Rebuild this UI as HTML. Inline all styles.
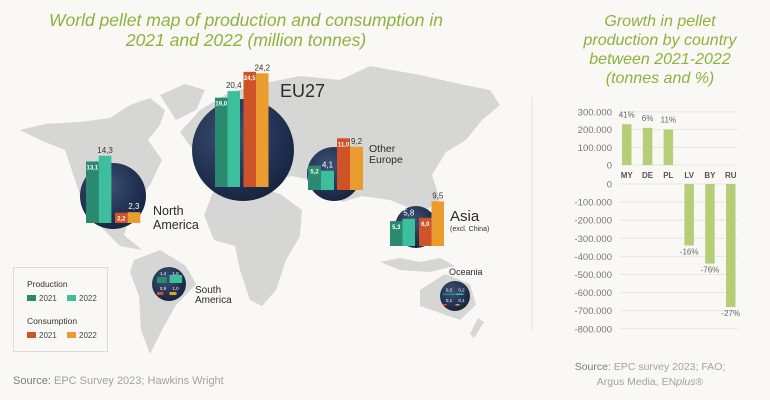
<!DOCTYPE html>
<html><head><meta charset="utf-8">
<style>
html,body{margin:0;padding:0;background:#f9f8f4;}
svg{display:block;font-family:"Liberation Sans",sans-serif;}
</style></head>
<body>
<svg id="root" width="770" height="400" viewBox="0 0 770 400" xmlns="http://www.w3.org/2000/svg">
<defs>
<radialGradient id="globe" cx="40%" cy="35%" r="70%">
<stop offset="0" stop-color="#3e5276"/><stop offset="0.7" stop-color="#1f2f4f"/><stop offset="1" stop-color="#16233d"/>
</radialGradient>
</defs>
<rect width="770" height="400" fill="#f9f8f4"/>

<g fill="#8fb23e" font-style="italic" font-size="17.5" text-anchor="middle">
<text x="246" y="26">World pellet map of production and consumption in</text>
<text x="246" y="46">2021 and 2022 (million tonnes)</text>
</g>
<g fill="#8fb23e" font-style="italic" font-size="16" text-anchor="middle">
<text x="660" y="26">Growth in pellet</text>
<text x="660" y="45">production by country</text>
<text x="660" y="64">between 2021-2022</text>
<text x="660" y="83">(tonnes and %)</text>
</g>

<g fill="#d6d6d5">
<polygon points="20,130 45,124 80,122 110,118 130,105 150,98 165,110 160,125 148,140 162,160 150,185 138,200 130,215 124,235 142,250 120,246 100,226 85,210 75,180 65,150 40,140"/>
<polygon points="160,95 185,84 205,90 196,110 176,120"/>
<polygon points="134,260 160,250 186,266 196,284 176,305 162,330 150,354 141,330 139,296 130,272"/>
<polygon points="180,132 200,110 230,92 270,82 300,76 340,80 370,66 420,75 460,84 490,90 500,105 482,120 466,140 446,152 432,175 440,200 420,215 405,206 390,200 362,196 342,202 320,182 292,176 262,182 232,176 206,176 200,160"/>
<polygon points="214,190 250,184 280,194 302,210 300,236 286,260 276,290 262,306 250,300 240,270 235,246 214,240 204,215"/>
<polygon points="420,290 445,274 470,284 476,305 460,320 440,313 420,306"/>
<polygon points="380,262 400,258 420,262 440,258 455,266 430,272 400,270"/>
<polygon points="478,318 484,322 474,338 470,334"/>
</g>

<g id="bubbles"></g>

<g>
<rect x="13.5" y="267.5" width="94" height="84" fill="#f9f8f4" stroke="#dcdcd8"/>
<text x="27" y="287" font-size="8.5" fill="#333">Production</text>
<rect x="27" y="295" width="9" height="6" fill="#2a8a70"/>
<text x="39" y="301" font-size="8" fill="#444">2021</text>
<rect x="67" y="295" width="9" height="6" fill="#3dbf9d"/>
<text x="79" y="301" font-size="8" fill="#444">2022</text>
<text x="27" y="324" font-size="8.5" fill="#333">Consumption</text>
<rect x="27" y="332" width="9" height="6" fill="#cf5328"/>
<text x="39" y="338" font-size="8" fill="#444">2021</text>
<rect x="67" y="332" width="9" height="6" fill="#eb9c2e"/>
<text x="79" y="338" font-size="8" fill="#444">2022</text>
</g>

<text x="13" y="384" font-size="11" fill="#a2a2a0"><tspan fill="#7d7d7b">Source:</tspan> EPC Survey 2023; Hawkins Wright</text>

<line x1="532" y1="97" x2="532" y2="330" stroke="#e2e2de"/>

<g id="chart"></g>

<g font-size="10.5" fill="#a2a2a0" text-anchor="middle">
<text x="650" y="370"><tspan fill="#7d7d7b">Source:</tspan> EPC survey 2023; FAO;</text>
<text x="650" y="385">Argus Media, EN<tspan font-style="italic">plus</tspan>®</text>
</g>
</svg>
<script>
// ---- Map bubble data ----
const regions = ["EU27","North America","Other Europe","Asia"];
const prod2021 = [19.0,13.1,5.2,5.3];
const prod2022 = [20.4,14.3,4.1,5.8];
const cons2021 = [24.5,2.2,11.0,6.0];
const cons2022 = [24.2,2.3,9.2,9.5];
const prodLbl21 = ["19,0","13,1","5,2","5,3"];
const prodLbl22 = ["20,4","14,3","4,1","5,8"];
const consLbl21 = ["24,5","2,2","11,0","6,0"];
const consLbl22 = ["24,2","2,3","9,2","9,5"];
const smallRegions = ["South America","Oceania"];
const smallProd21 = [1.4,0.3];
const smallProd22 = [1.8,0.2];
const smallCons21 = [0.9,0.1];
const smallCons22 = [1.0,0.1];
const smallP21Lbl = ["1,4","0,3"], smallP22Lbl=["1,8","0,2"], smallC21Lbl=["0,9","0,1"], smallC22Lbl=["1,0","0,1"];

// ---- Growth chart data ----
const countries = ["MY","DE","PL","LV","BY","RU"];
const growth = [230000,210000,200000,-340000,-440000,-680000];
const pctLabels = ["41%","6%","11%","-16%","-76%","-27%"];
const topTicks = [300000,200000,100000,0];
const bottomTicks = [0,-100000,-200000,-300000,-400000,-500000,-600000,-700000,-800000];

const NS="http://www.w3.org/2000/svg";
function mk(tag,attrs,parent){const e=document.createElementNS(NS,tag);for(const k in attrs)e.setAttribute(k,attrs[k]);parent.appendChild(e);return e;}
const fmt=v=>{const s=Math.abs(v).toString().replace(/\B(?=(\d{3})+(?!\d))/g,".");return (v<0?"-":"")+(v===0?"0":s);};

const layout=[
 {cx:243,cy:150,r:51,x0:215,base:187,w:12.5,gap:3.5,lx:280,ly:97,fs:18},
 {cx:113,cy:196,r:33,x0:86,base:223,w:12.7,gap:3.5,lx:153,ly:215,fs:12.5},
 {cx:334,cy:174,r:27,x0:308,base:190,w:13,gap:3,lx:369,ly:152,fs:10.5},
 {cx:416,cy:227,r:21,x0:390,base:246,w:12.5,gap:4,lx:450,ly:221,fs:15}
];
const unit=4.7;
const bub=document.getElementById('bubbles');
regions.forEach((name,i)=>{
  const L=layout[i];
  const g=mk('g',{},bub);
  
  
  const c=mk('circle',{cx:L.cx,cy:L.cy,r:L.r,fill:'url(#globe)'},g);
  
  
  const vals=[prod2021[i],prod2022[i],cons2021[i],cons2022[i]];
  const lbls=[prodLbl21[i],prodLbl22[i],consLbl21[i],consLbl22[i]];
  const cols=['#2a8a70','#3dbf9d','#cf5328','#eb9c2e'];
  const names=['bar-prod-2021','bar-prod-2022','bar-cons-2021','bar-cons-2022'];
  vals.forEach((v,j)=>{
    const x=L.x0+j*L.w+(j>=2?L.gap:0);
    const h=v*unit;
    const b=mk('rect',{x:x,y:L.base-h,width:L.w,height:h,fill:cols[j]},g);
    
    
    const inside=(j%2===0);
    const ty=inside?L.base-h+8:L.base-h-3;
    const cxm=x+L.w/2;
    const overGlobe=!inside && ((cxm-L.cx)**2+(ty-3-L.cy)**2<L.r*L.r);
    const t=mk('text',{x:cxm,y:ty,'font-size':inside?6:8,fill:(inside||overGlobe)?'#fff':'#333','text-anchor':'middle','font-weight':inside?'bold':'normal'},g);
    t.textContent=lbls[j];
    
    
  });
  const lt=mk('text',{x:L.lx,y:L.ly,'font-size':L.fs,fill:'#2b2b2b'},g);
  
  
  if(name==='North America'){lt.innerHTML='<tspan x="'+L.lx+'">North</tspan><tspan x="'+L.lx+'" dy="14">America</tspan>';}
  else if(name==='Other Europe'){lt.innerHTML='<tspan x="'+L.lx+'">Other</tspan><tspan x="'+L.lx+'" dy="11">Europe</tspan>';}
  else lt.textContent=name;
  if(name==='Asia'){const s=mk('text',{x:L.lx,y:L.ly+10,'font-size':7,fill:'#333'},g);s.textContent='(excl. China)';
    
    }
});
// small horizontal-bar bubbles
const sLayout=[{cx:169,cy:284,r:17,x0:157,lx:195,ly:293,fs:10,u:7,prodH:6,consH:3},{cx:455,cy:296,r:15,x0:443,lx:449,ly:275,fs:9,u:40,prodH:1.5,consH:1.5}];
smallRegions.forEach((name,i)=>{
  const L=sLayout[i];
  const g=mk('g',{},bub);
  
  
  const c=mk('circle',{cx:L.cx,cy:L.cy,r:L.r,fill:'url(#globe)'},g);
  
  
  const rows=[
    {vals:[smallProd21[i],smallProd22[i]],lbl:[smallP21Lbl[i],smallP22Lbl[i]],cols:['#2a8a70','#3dbf9d'],y:L.cy-1-L.prodH,name:'prod'},
    {vals:[smallCons21[i],smallCons22[i]],lbl:[smallC21Lbl[i],smallC22Lbl[i]],cols:['#cf5328','#eb9c2e'],y:L.cy+8,name:'cons'}
  ];
  rows.forEach(r=>{
    r.vals.forEach((v,j)=>{
      const w=Math.min(v*L.u,13);
      const x=L.x0+j*12.5;
      const hh=(r.name==='prod'?L.prodH:L.consH)+(j===1&&r.name==='prod'&&i===0?2:0);
      const b=mk('rect',{x:x,y:r.y-(hh-(r.name==='prod'?L.prodH:L.consH)),width:w,height:hh,fill:r.cols[j]},g);
      
      
      const t=mk('text',{x:x+6,y:r.y-2,'font-size':4.5,fill:'#fff','text-anchor':'middle'},g);
      t.textContent=r.lbl[j];
      
      
    });
  });
  const lt=mk('text',{x:L.lx,y:L.ly,'font-size':L.fs,fill:'#2b2b2b'},g);
  
  
  if(name==='South America')lt.innerHTML='<tspan x="'+L.lx+'">South</tspan><tspan x="'+L.lx+'" dy="10">America</tspan>';
  else lt.textContent=name;
});

// ---- Growth chart ----
const ch=document.getElementById('chart');
const topY0=165, topScale=17.7/100000;
const botY0=184, botScale=18.1/100000;
const yTop=v=>topY0-v*topScale;
const yBot=v=>botY0-v*botScale;
const xBar=i=>622+i*20.8;
const bw=9.5;
topTicks.forEach(v=>{
  const y=yTop(v);
  const l=mk('line',{x1:620,x2:738,y1:y,y2:y,stroke:'#e6e6e2','stroke-width':1},ch);
  
  
  const t=mk('text',{x:612,y:y+3.5,'font-size':9.5,fill:'#777','text-anchor':'end'},ch);
  t.textContent=fmt(v);
  
  
});
bottomTicks.forEach(v=>{
  const y=yBot(v);
  const l=mk('line',{x1:620,x2:738,y1:y,y2:y,stroke:'#e6e6e2','stroke-width':1},ch);
  
  
  const t=mk('text',{x:612,y:y+3.5,'font-size':9.5,fill:'#777','text-anchor':'end'},ch);
  t.textContent=fmt(v);
  
  
});
countries.forEach((c,i)=>{
  const v=growth[i];
  const x=xBar(i);
  let y,h;
  if(v>=0){y=yTop(v);h=topY0-y;}else{y=botY0;h=yBot(v)-botY0;}
  const b=mk('rect',{x:x,y:y,width:bw,height:h,fill:'#b5cf78'},ch);
  
  
  const t=mk('text',{x:x+bw/2,y:v>=0?y-7:y+h+9,'font-size':8,fill:'#666','text-anchor':'middle'},ch);
  t.textContent=pctLabels[i];
  
  
  const xl=mk('text',{x:x+bw/2,y:178,'font-size':8,fill:'#555','font-weight':'bold','text-anchor':'middle'},ch);
  xl.textContent=c;
  
  
});
</script>
</body></html>
